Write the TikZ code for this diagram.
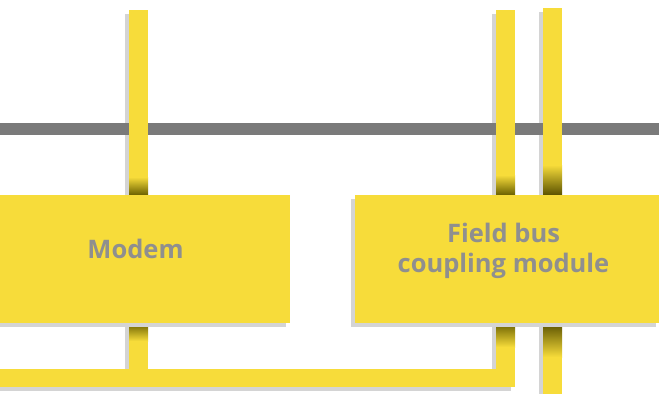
\documentclass[tikz,border=0pt]{standalone}
\usepackage{fontspec}
\setmainfont{Open Sans}
\definecolor{bary}{HTML}{F7DC3A}
\definecolor{shad}{HTML}{D4D4D4}
\definecolor{busg}{HTML}{7A7A7A}
\definecolor{txtg}{HTML}{8F8F8F}
\definecolor{olive}{HTML}{6A6000}
\begin{document}
\begin{tikzpicture}[x=1pt,y=-1pt,
  shadowfill/.style={fill=shad},
  barfill/.style={fill=bary},
  boxnode/.style={fill=bary, minimum height=128pt, inner sep=0pt},
  labeltext/.style={text=txtg, align=center, font=\bfseries\fontsize{25.5}{29.5}\selectfont}]
\useasboundingbox (0,0) rectangle (659,394);
% shadows of bars
\fill[shadowfill] (125,14) rectangle (144,391);
\fill[shadowfill] (-4,373) rectangle (511,391);
\fill[shadowfill] (492,14) rectangle (511,391);
\fill[shadowfill] (539,12) rectangle (558,394);
% bus line
\fill[busg] (0,123) rectangle (659,135);
% bars
\fill[barfill] (129,10) rectangle (148,387);
\fill[barfill] (0,369) rectangle (515,387);
\fill[barfill] (496,10) rectangle (515,387);
\fill[barfill] (543,8) rectangle (562,394);
% gradients near boxes
\shade[top color=bary, bottom color=olive] (129,177) rectangle (148,195);
\shade[top color=olive, bottom color=bary] (129,323) rectangle (148,341);
\shade[top color=bary, bottom color=olive] (496,175) rectangle (515,195);
\shade[top color=olive, bottom color=bary] (496,323) rectangle (515,347);
\shade[top color=bary, bottom color=olive!85!black] (543,165) rectangle (562,195);
\shade[top color=olive!85!black, bottom color=bary] (543,323) rectangle (562,357);
% box shadows
\fill[shadowfill] (-5,199) rectangle (286,327);
\fill[shadowfill] (351,199) rectangle (656,327);
% boxes
\node[boxnode, minimum width=291pt] (modem) at (144.5,259) {};
\node[boxnode, minimum width=305pt] (fbm) at (507.5,259) {};
\node[labeltext] (modemtxt) at (135.5,248.5) {Modem};
\node[labeltext] (fbmtxt) at (503.5,251) {Field bus\\coupling module};
\end{tikzpicture}
\end{document}
